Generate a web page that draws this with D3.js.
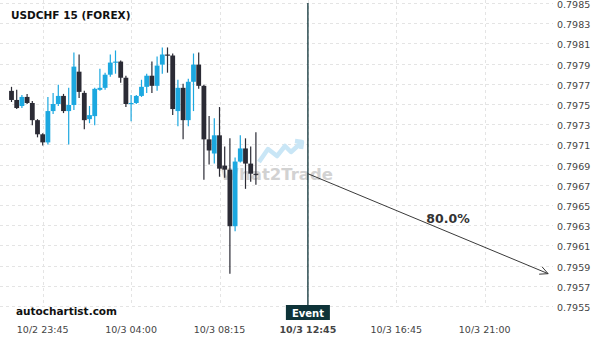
<!DOCTYPE html>
<html lang="en">
<head>
<meta charset="UTF-8">
<title>USDCHF 15 (FOREX)</title>
<script src="https://d3js.org/d3.v7.min.js"></script>
<style>
  body { margin: 0; padding: 0; background: #fff; }
  svg { display: block; font-family: "DejaVu Sans", sans-serif; }
</style>
</head>
<body>
<div id="chart"></div>
<script>
// 15 minute candles, oldest first
const opens  = [0.79763, 0.79754, 0.79748, 0.79757, 0.79751, 0.79734, 0.79720, 0.79712, 0.79743, 0.79750,
                0.79758, 0.79743, 0.79749, 0.79782, 0.79761, 0.79735, 0.79738, 0.79764, 0.79766, 0.79779,
                0.79791, 0.79792, 0.79776, 0.79750, 0.79751, 0.79758, 0.79767, 0.79778, 0.79768, 0.79789,
                0.79799, 0.79798, 0.79743, 0.79766, 0.79734, 0.79772, 0.79789, 0.79768, 0.79715, 0.79701,
                0.79719, 0.79689, 0.79685, 0.79629, 0.79693, 0.79706, 0.79691, 0.79681];
const highs  = [0.79767, 0.79764, 0.79759, 0.79760, 0.79753, 0.79735, 0.79721, 0.79757, 0.79761, 0.79769,
                0.79760, 0.79766, 0.79801, 0.79799, 0.79763, 0.79748, 0.79766, 0.79785, 0.79781, 0.79799,
                0.79803, 0.79793, 0.79778, 0.79759, 0.79759, 0.79774, 0.79780, 0.79792, 0.79797, 0.79806,
                0.79806, 0.79800, 0.79774, 0.79770, 0.79775, 0.79800, 0.79801, 0.79769, 0.79738, 0.79736,
                0.79747, 0.79708, 0.79716, 0.79697, 0.79719, 0.79716, 0.79708, 0.79722];
const lows   = [0.79752, 0.79745, 0.79746, 0.79750, 0.79729, 0.79717, 0.79709, 0.79710, 0.79740, 0.79748,
                0.79741, 0.79710, 0.79744, 0.79756, 0.79725, 0.79731, 0.79729, 0.79763, 0.79764, 0.79777,
                0.79780, 0.79771, 0.79747, 0.79733, 0.79750, 0.79757, 0.79761, 0.79761, 0.79763, 0.79780,
                0.79781, 0.79739, 0.79728, 0.79715, 0.79728, 0.79743, 0.79765, 0.79675, 0.79690, 0.79691,
                0.79678, 0.79677, 0.79582, 0.79624, 0.79692, 0.79666, 0.79673, 0.79670];
const closes = [0.79754, 0.79746, 0.79757, 0.79751, 0.79734, 0.79720, 0.79712, 0.79743, 0.79750, 0.79758,
                0.79743, 0.79749, 0.79787, 0.79762, 0.79734, 0.79739, 0.79765, 0.79766, 0.79779, 0.79791,
                0.79792, 0.79776, 0.79750, 0.79751, 0.79758, 0.79767, 0.79778, 0.79768, 0.79788, 0.79799,
                0.79798, 0.79745, 0.79766, 0.79734, 0.79772, 0.79789, 0.79768, 0.79715, 0.79704, 0.79719,
                0.79686, 0.79685, 0.79629, 0.79693, 0.79706, 0.79691, 0.79681, 0.79680];

// x axis: bar index of each labelled tick
const tickIndex  = [6, 23, 40, 57, 74, 91];
const tickLabels = ["10/2 23:45", "10/3 04:00", "10/3 08:15", "10/3 12:45", "10/3 16:45", "10/3 21:00"];
const priceTicks = d3.range(0, 16).map(k => +(0.7955 + k * 0.0002).toFixed(4));

// forecast
const eventIndex = 57;
const arrowFrom  = [57, 0.79681];
const arrowTo    = [103.2, 0.79582];
const probability = "80.0%";

const width = 600, height = 340;
const up = "#1ca8e0", down = "#2b2b35";

const x = d3.scaleLinear().domain([0, 91]).range([11.5, 484.7]);
const y = d3.scaleLinear().domain([0.7955, 0.7985]).range([306, 3]);

const svg = d3.select("#chart").append("svg")
    .attr("width", width).attr("height", height);

// grid
svg.append("g").selectAll("line").data(priceTicks).join("line")
    .attr("x1", 0).attr("x2", 553)
    .attr("y1", d => Math.round(y(d)) + 0.5).attr("y2", d => Math.round(y(d)) + 0.5)
    .attr("stroke", "#e4e4e4").attr("stroke-dasharray", "3,3");
svg.append("g").selectAll("line").data(tickIndex).join("line")
    .attr("x1", d => Math.round(x(d)) + 0.5).attr("x2", d => Math.round(x(d)) + 0.5)
    .attr("y1", 0).attr("y2", 306)
    .attr("stroke", "#e4e4e4").attr("stroke-dasharray", "3,3");

// watermark
const wm = svg.append("g");
wm.append("path")
    .attr("d", "M259,162 L268,149 L277,156 L285,146 L291,152 L302,142 M295,141 L302,142 L301,149")
    .attr("fill", "none").attr("stroke", "#c9e6f6").attr("stroke-width", 4.5)
    .attr("stroke-linejoin", "round");
wm.append("text").attr("x", 333).attr("y", 180).attr("text-anchor", "end")
    .attr("font-size", 16.5).attr("font-weight", "bold").attr("fill", "#d2d2d2")
    .text("What2Trade");

// candles
const candles = svg.append("g").selectAll("g").data(opens).join("g")
    .attr("fill", (d, i) => closes[i] >= d ? up : down)
    .attr("stroke", (d, i) => closes[i] >= d ? up : down);
candles.append("line")
    .attr("x1", (d, i) => x(i)).attr("x2", (d, i) => x(i))
    .attr("y1", (d, i) => y(highs[i])).attr("y2", (d, i) => y(lows[i]))
    .attr("stroke-width", 1.2);
candles.append("rect")
    .attr("x", (d, i) => x(i) - 2.4).attr("width", 4.8)
    .attr("y", (d, i) => y(Math.max(d, closes[i])))
    .attr("height", (d, i) => Math.max(1.2, Math.abs(y(d) - y(closes[i]))))
    .attr("stroke", "none");

// event line
svg.append("line")
    .attr("x1", x(eventIndex)).attr("x2", x(eventIndex))
    .attr("y1", 3).attr("y2", 306)
    .attr("stroke", "#0e3338").attr("stroke-width", 1.3);

// forecast arrow
const ax1 = x(arrowFrom[0]), ay1 = y(arrowFrom[1]);
const ax2 = x(arrowTo[0]), ay2 = y(arrowTo[1]);
const ang = Math.atan2(ay2 - ay1, ax2 - ax1);
svg.append("line")
    .attr("x1", ax1).attr("y1", ay1).attr("x2", ax2).attr("y2", ay2)
    .attr("stroke", "#3a3a3a").attr("stroke-width", 1);
svg.append("path")
    .attr("d", d3.line()([
        [ax2 - 9 * Math.cos(ang - 0.45), ay2 - 9 * Math.sin(ang - 0.45)],
        [ax2, ay2],
        [ax2 - 9 * Math.cos(ang + 0.45), ay2 - 9 * Math.sin(ang + 0.45)]
    ]))
    .attr("fill", "none").attr("stroke", "#3a3a3a");
svg.append("text")
    .attr("x", 448).attr("y", 223).attr("text-anchor", "middle")
    .attr("font-size", 12.5).attr("font-weight", "bold").attr("fill", "#333")
    .text(probability);

// y axis labels
svg.append("g").selectAll("text").data(priceTicks).join("text")
    .attr("x", 557).attr("y", d => y(d) + 5)
    .attr("font-size", 9.5).attr("fill", "#444")
    .text(d => d.toFixed(4));

// x axis labels
svg.append("g").selectAll("text").data(tickIndex).join("text")
    .attr("x", d => x(d)).attr("y", 333).attr("text-anchor", "middle")
    .attr("font-size", 9.5).attr("fill", "#444")
    .attr("font-weight", d => d === eventIndex ? "bold" : null)
    .text((d, i) => tickLabels[i]);

// event tag
const ex = x(eventIndex);
svg.append("rect").attr("x", ex - 22).attr("y", 305).attr("width", 44).attr("height", 15)
    .attr("fill", "#0e3338");
svg.append("text").attr("x", ex).attr("y", 316.5).attr("text-anchor", "middle")
    .attr("font-size", 10).attr("font-weight", "bold").attr("fill", "#fff")
    .text("Event");

// titles
svg.append("text").attr("x", 11).attr("y", 18.5)
    .attr("font-size", 10.5).attr("font-weight", "bold").attr("fill", "#111")
    .text("USDCHF 15 (FOREX)");
svg.append("text").attr("x", 16).attr("y", 315)
    .attr("font-size", 10.5).attr("font-weight", "bold").attr("fill", "#111")
    .text("autochartist.com");
</script>
</body>
</html>
